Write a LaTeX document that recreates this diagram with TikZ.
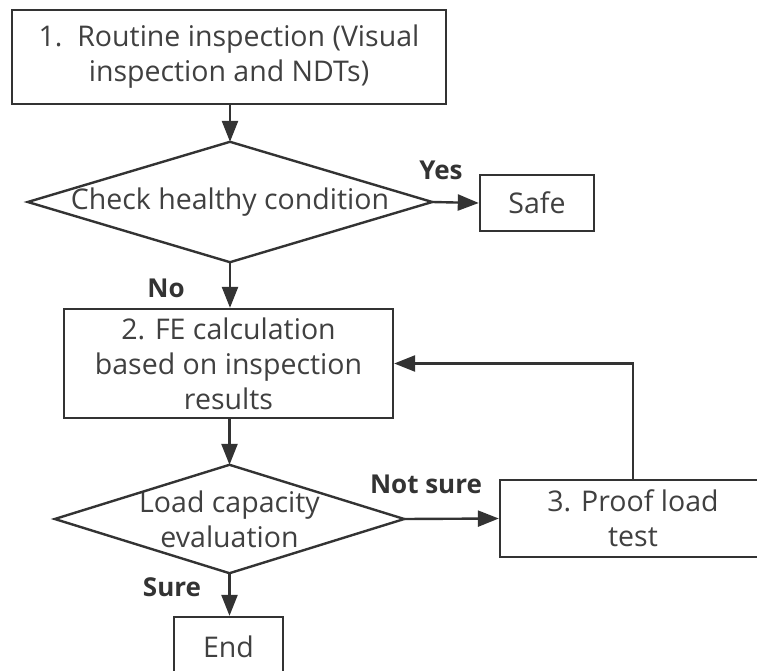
\documentclass[tikz,border=0pt]{standalone}
\usepackage{fontspec}
\setmainfont{Open Sans}
\usetikzlibrary{arrows.meta}
\definecolor{linec}{HTML}{333333}
\definecolor{textc}{HTML}{404040}
\tikzset{
  box/.style={draw=linec, line width=2.4pt, rectangle, inner sep=0pt, align=center, text=textc, font=\fontsize{28.5}{35}\selectfont},
  dmd/.style={rectangle, inner sep=0pt, align=center, text=textc, font=\fontsize{28.5}{35}\selectfont},
  dmdline/.style={draw=linec, line width=2.4pt, line join=miter},
  conn/.style={draw=linec, line width=2.4pt, -{Triangle[length=21pt,width=16pt]}},
  lbl/.style={text=linec, font=\fontsize{26}{28}\selectfont\bfseries, inner sep=0pt}
}
\begin{document}
\begin{tikzpicture}[x=1pt,y=-1pt]
\useasboundingbox (0,0) rectangle (757,671);
\clip (0,0) rectangle (757,671);
\fill[white] (0,0) rectangle (757,671);
\node[box, minimum width=434pt, minimum height=94pt] (b1) at (229,57) {1.\ \ Routine inspection (Visual\\inspection and NDTs)};
\node[dmd, minimum width=404pt, minimum height=120pt] (d1) at (230,202) {Check healthy condition};
\draw[dmdline] (d1.west) -- (d1.north) -- (d1.east) -- (d1.south) -- cycle;
\node[box, minimum width=114pt, minimum height=56pt] (safe) at (537,203) {Safe};
\node[box, minimum width=329pt, minimum height=109pt] (b2) at (228.5,363.5) {2. FE calculation\\based on inspection\\results};
\node[dmd, minimum width=349pt, minimum height=108pt] (d2) at (229.5,519) {Load capacity\\evaluation};
\draw[dmdline] (d2.west) -- (d2.north) -- (d2.east) -- (d2.south) -- cycle;
\node[box, minimum width=266pt, minimum height=77pt] (b3) at (633,518.5) {3. Proof load\\test};
\node[box, minimum width=109pt, minimum height=60pt] (e) at (228.5,647) {End};
\draw[conn] (b1.south -| d1.north) -- (d1.north);
\draw[conn] (d1.east) -- (safe.west);
\draw[conn] (d1.south) -- (b2.north -| d1.south);
\draw[conn] (b2.south -| d2.north) -- (d2.north);
\draw[conn] (d2.east) -- (b3.west);
\draw[conn] (b3.north) -- (b3.north |- b2.east) -- (b2.east);
\draw[conn] (d2.south) -- (e.north -| d2.south);
\node[lbl] (yes) at (441,170) {Yes};
\node[lbl] (no) at (166,288) {No};
\node[lbl] (ns) at (426,484) {Not sure};
\node[lbl] (sure) at (172,587) {Sure};
\end{tikzpicture}
\end{document}
